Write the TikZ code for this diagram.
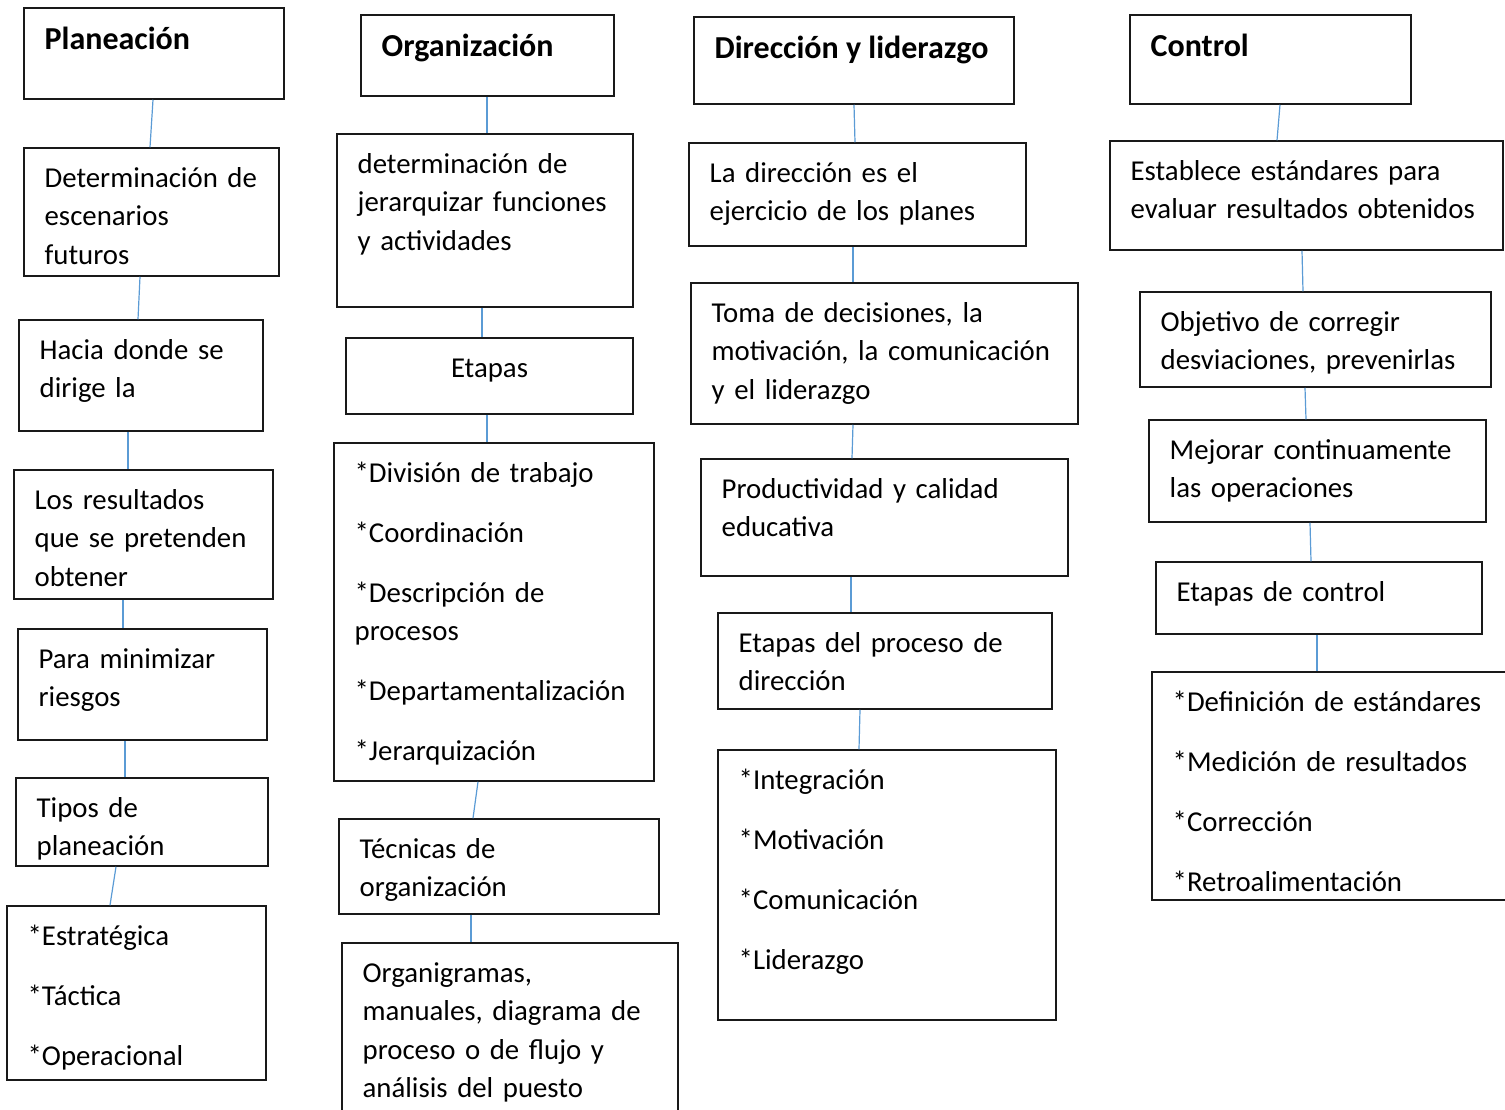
\documentclass[tikz,border=0pt]{standalone}
\usepackage{fontspec}
\setmainfont{Carlito}
\usepackage{tikz}
\usetikzlibrary{fit,calc}
\definecolor{azulenlace}{RGB}{91,155,213}

\begin{document}
\begin{tikzpicture}[x=0.5pt,y=-0.5pt,
	caja/.style={draw=black!90,line width=0.75pt,inner sep=0pt},
	enlace/.style={draw=azulenlace,line width=0.6pt},
	texto/.style={anchor=base west,inner sep=0pt,align=left,text width=9cm,
		font=\fontsize{14.4}{19.2}\selectfont},
	titulo/.style={anchor=base west,inner sep=0pt,font=\fontsize{16}{19.2}\selectfont\bfseries}]
	%
	% Marco de la figura
	\useasboundingbox (0,0) rectangle (1505,1109);
	\clip (0,0) rectangle (1505,1109);
	%
	% Caja con texto arriba a la izquierda
	\def\caja#1#2#3#4{%
		\node[caja,fit={#2 #3}] (#1) {};
		\node[texto] (#1-t) at ($(#1.north west)+(21,40)$) {#4};}
	\def\salto{\\[10.8pt]}
	%
	% Planeación
	\node[caja,fit={(24,8) (284,99)}] (pl) {};
	\node[titulo] (pl-t) at ($(pl.north west)+(21,42)$) {Planeación};
	\caja{de}{(24,148)}{(279,276)}{Determinación de\\escenarios\\futuros}
	\caja{ha}{(19,320)}{(263,431)}{Hacia donde se\\dirige la}
	\caja{lo}{(14,470)}{(273,599)}{Los resultados\\que se pretenden\\obtener}
	\caja{pa}{(18,629)}{(267,740)}{Para minimizar\\riesgos}
	\caja{ti}{(16,778)}{(268,866)}{Tipos de\\planeación}
	\caja{es}{(7,906)}{(266,1080)}{*Estratégica\salto *Táctica\salto *Operacional}
	%
	% Organización
	\node[caja,fit={(361,15) (614,96)}] (or) {};
	\node[titulo] (or-t) at ($(or.north west)+(21,42)$) {Organización};
	\caja{dj}{(337,134)}{(633,307)}{determinación de\\jerarquizar funciones\\y actividades}
	\node[caja,fit={(346,338) (633,414)}] (et) {};
	\node[texto,text width=,anchor=base] (et-t) at ($(et.north)+(0,40)$) {Etapas};
	\caja{di}{(334,443)}{(654,781)}{*División de trabajo\salto *Coordinación\salto
		*Descripción de\\procesos\salto *Departamentalización\salto *Jerarquización}
	\caja{te}{(339,819)}{(659,914)}{Técnicas de\\organización}
	\caja{og}{(342,943)}{(678,1130)}{Organigramas,\\manuales, diagrama de\\proceso o de flujo y\\análisis del puesto}
	%
	% Dirección y liderazgo
	\node[caja,fit={(694,17) (1014,104)}] (dl) {};
	\node[titulo] (dl-t) at ($(dl.north west)+(21,42)$) {Dirección y liderazgo};
	\caja{la}{(689,143)}{(1026,246)}{La dirección es el\\ejercicio de los planes}
	\caja{to}{(691,283)}{(1078,424)}{Toma de decisiones, la\\motivación, la comunicación\\y el liderazgo}
	\caja{pr}{(701,459)}{(1068,576)}{Productividad y calidad\\educativa}
	\caja{ep}{(718,613)}{(1052,709)}{Etapas del proceso de\\dirección}
	\caja{in}{(718,750)}{(1056,1020)}{*Integración\salto *Motivación\salto *Comunicación\salto *Liderazgo}
	%
	% Control
	\node[caja,fit={(1130,15) (1411,104)}] (co) {};
	\node[titulo] (co-t) at ($(co.north west)+(21,42)$) {Control};
	\caja{eb}{(1110,141)}{(1503,250)}{Establece estándares para\\evaluar resultados obtenidos}
	\caja{ob}{(1140,292)}{(1491,387)}{Objetivo de corregir\\desviaciones, prevenirlas}
	\caja{me}{(1149,420)}{(1486,522)}{Mejorar continuamente\\las operaciones}
	\caja{ec}{(1156,562)}{(1482,634)}{Etapas de control}
	\caja{dfn}{(1152,672)}{(1530,900)}{*Definición de estándares\salto *Medición de resultados\salto
		*Corrección\salto *Retroalimentación}
	%
	% Enlaces
	\draw[enlace] (pl.south -| 153,0) -- (de.north -| 150,0);
	\draw[enlace] (de.south -| 140,0) -- (ha.north -| 138,0);
	\draw[enlace] (ha.south -| 128,0) -- (lo.north -| 128,0);
	\draw[enlace] (lo.south -| 123,0) -- (pa.north -| 123,0);
	\draw[enlace] (pa.south -| 125,0) -- (ti.north -| 125,0);
	\draw[enlace] (ti.south -| 116,0) -- (es.north -| 110,0);
	\draw[enlace] (or.south -| 487,0) -- (dj.north -| 487,0);
	\draw[enlace] (dj.south -| 482,0) -- (et.north -| 482,0);
	\draw[enlace] (et.south -| 487,0) -- (di.north -| 487,0);
	\draw[enlace] (di.south -| 478,0) -- (te.north -| 473,0);
	\draw[enlace] (te.south -| 471,0) -- (og.north -| 471,0);
	\draw[enlace] (dl.south -| 854,0) -- (la.north -| 855,0);
	\draw[enlace] (la.south -| 853,0) -- (to.north -| 853,0);
	\draw[enlace] (to.south -| 853,0) -- (pr.north -| 852,0);
	\draw[enlace] (pr.south -| 851,0) -- (ep.north -| 851,0);
	\draw[enlace] (ep.south -| 860,0) -- (in.north -| 859,0);
	\draw[enlace] (co.south -| 1280,0) -- (eb.north -| 1277,0);
	\draw[enlace] (eb.south -| 1302,0) -- (ob.north -| 1303,0);
	\draw[enlace] (ob.south -| 1305,0) -- (me.north -| 1306,0);
	\draw[enlace] (me.south -| 1310,0) -- (ec.north -| 1311,0);
	\draw[enlace] (ec.south -| 1317,0) -- (dfn.north -| 1317,0);
\end{tikzpicture}
\end{document}
